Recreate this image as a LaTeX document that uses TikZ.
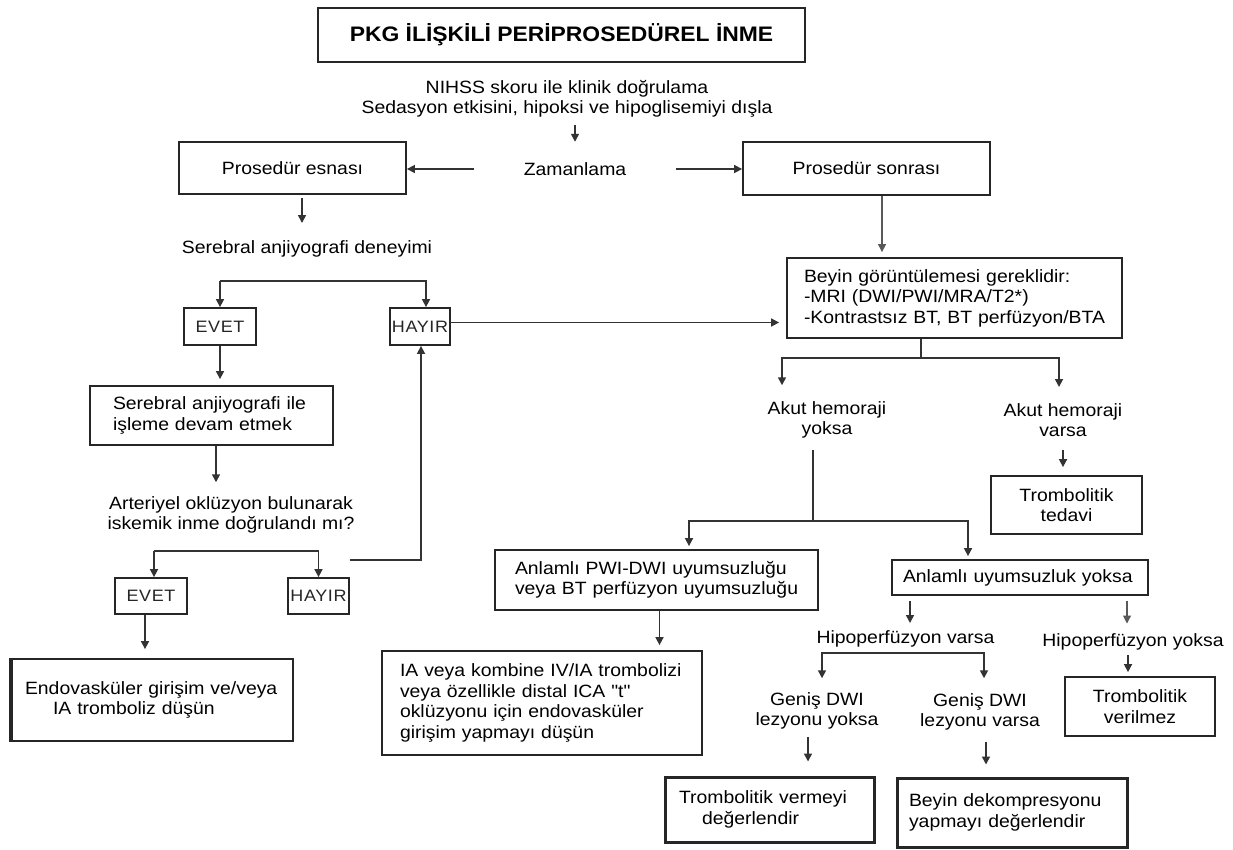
\documentclass[tikz,border=0pt]{standalone}
\usepackage{fontspec}
\setmainfont{Liberation Sans}[FakeStretch=1.09]
\newfontfamily\yesno{Liberation Sans}[FakeStretch=1.09,LetterSpace=4]
\usetikzlibrary{arrows.meta}
\newcommand{\sq}{{\addfontfeature{Ligatures=TeXOff}"}}
\begin{document}
\begin{tikzpicture}[x=1pt,y=-1pt,
  every node/.style={font=\fontsize{17.8}{20.5}\selectfont, text=black},
  box/.style={draw=black!85, line width=1.8pt, inner sep=0pt, align=center},
  txt/.style={inner sep=0pt, align=center},
  ln/.style={draw=black!80, line width=1.6pt},
  arr/.style={ln, -{Triangle[length=8pt,width=8pt]}},
  thinarr/.style={draw=black!65, line width=1.1pt, -{Triangle[length=8pt,width=8pt]}},
  yn/.style={box, font=\yesno\fontsize{16.5}{18}\selectfont, text=black!85}]
\useasboundingbox[fill=white] (0,0) rectangle (1233,849);

% nodes
\node[box, minimum width=487, minimum height=54, font=\bfseries\fontsize{21}{24}\selectfont] (title) at (561.5,35) {PKG İLİŞKİLİ PERİPROSEDÜREL İNME};
\node[txt] (nihss) at (567,99) {NIHSS skoru ile klinik doğrulama\\Sedasyon etkisini, hipoksi ve hipoglisemiyi dışla};
\node[txt] (zam) at (575,169) {Zamanlama};
\node[box, minimum width=227, minimum height=52] (esn) at (292.5,168) {Prosedür esnası};
\node[box, minimum width=247, minimum height=53] (son) at (866.5,168.5) {Prosedür sonrası};
\node[txt] (sad) at (307,249) {Serebral anjiyografi deneyimi};
\node[yn, minimum width=72, minimum height=37] (evet1) at (220,326.5) {EVET};
\node[yn, minimum width=60, minimum height=37] (hayir1) at (420,326.5) {HAYIR};
\node[box, minimum height=59, text width=197, inner xsep=23, align=left] (devam) at (211.5,415.5) {\mbox{Serebral anjiyografi ile}\\\mbox{işleme devam etmek}};
\node[txt] (arter) at (231,515) {Arteriyel oklüzyon bulunarak\\iskemik inme doğrulandı mı?};
\node[yn, minimum width=72, minimum height=36] (evet2) at (151,596) {EVET};
\node[yn, minimum width=61, minimum height=36] (hayir2) at (318.5,596) {HAYIR};
\node[box, minimum height=82, text width=255, inner xsep=13, align=left] (endo) at (152.5,700) {\mbox{Endovasküler girişim ve/veya}\\\mbox{\hspace*{28pt}IA tromboliz düşün}};
\node[box, minimum height=80, text width=301, inner xsep=17, align=left] (beyin) at (954.5,298) {\mbox{Beyin görüntülemesi gereklidir:}\\\mbox{-MRI (DWI/PWI/MRA/T2*)}\\\mbox{-Kontrastsız BT, BT perfüzyon/BTA}};
\node[txt] (hemY) at (827,420) {Akut hemoraji\\yoksa};
\node[txt] (hemV) at (1063,420) {Akut hemoraji\\varsa};
\node[box, minimum width=151, minimum height=58] (ted) at (1066.5,505) {Trombolitik\\tedavi};
\node[box, minimum height=60, text width=283, inner xsep=20, align=left] (pwi) at (656.5,580) {\mbox{Anlamlı PWI-DWI uyumsuzluğu}\\\mbox{veya BT perfüzyon uyumsuzluğu}};
\node[box, minimum height=104, text width=284, inner xsep=18, align=left] (ia) at (542,703) {\mbox{IA veya kombine IV/IA trombolizi}\\\mbox{veya özellikle distal ICA \sq t\sq}\\\mbox{oklüzyonu için endovasküler}\\\mbox{girişim yapmayı düşün}};
\node[box, minimum height=35, text width=234, inner xsep=11, align=left] (anl) at (1020,577.5) {\mbox{Anlamlı uyumsuzluk yoksa}};
\node[txt] (hipV) at (905.5,639) {Hipoperfüzyon varsa};
\node[txt] (hipY) at (1133,642) {Hipoperfüzyon yoksa};
\node[box, minimum width=150, minimum height=59] (verz) at (1140,706.5) {Trombolitik\\verilmez};
\node[txt] (dwiY) at (817,711) {Geniş DWI\\lezyonu yoksa};
\node[txt] (dwiV) at (980,712) {Geniş DWI\\lezyonu varsa};
\node[box, line width=3pt, minimum height=65, text width=181, inner xsep=14, align=left] (verm) at (769.5,809.5) {\mbox{Trombolitik vermeyi}\\\mbox{\hspace*{23pt}değerlendir}};
\node[box, line width=3pt, minimum height=69, text width=206, inner xsep=12, align=left] (dek) at (1012,812.5) {\mbox{Beyin dekompresyonu}\\\mbox{yapmayı değerlendir}};
\draw[line width=4pt, black!85] (endo.north west) -- (endo.south west);

% connectors
\draw[arr, shorten <=7, shorten >=20.5] (zam.north |- nihss.south) -- (zam.north);
\draw[arr] ([xshift=-50]zam.west) -- (zam.west -| esn.east);
\draw[arr] ([xshift=50]zam.east) -- (zam.east -| son.west);
\draw[arr, shorten <=3, shorten >=17.5] ([xshift=9.5]esn.south) -- ([xshift=9.5]esn.south |- sad.north);
\draw[arr] ([yshift=26]evet1.north) -- (evet1.north);
\draw[arr] ([yshift=26]evet1.north) -| ([xshift=6]hayir1.north);
\draw[arr, shorten >=7] ([yshift=4]hayir1.east) -- ([yshift=4]hayir1.east -| beyin.west);
\draw[arr, shorten >=6] (evet1.south) -- (evet1.south |- devam.north);
\draw[arr, shorten >=14] ([xshift=4.5]devam.south) -- ([xshift=4.5]devam.south |- arter.north);
\draw[arr] ([xshift=3,yshift=26]evet2.north) -- ([xshift=3]evet2.north);
\draw[arr] ([xshift=3,yshift=26]evet2.north) -| (hayir2.north);
\draw[arr] ([yshift=17]hayir2.north east) -| ([xshift=1]hayir1.south);
\draw[arr, shorten >=9] ([xshift=-6]evet2.south) -- ([xshift=-6]evet2.south |- endo.north);
\draw[thinarr, shorten >=5] ([xshift=15.5]son.south) -- ([xshift=15.5]son.south |- beyin.north);

\coordinate (bk) at (921,358);
\draw[ln] (beyin.south -| bk) -- (bk);
\draw[arr, shorten >=16] (bk) -| ([xshift=-45]hemY.north);
\draw[arr, shorten >=16] (bk) -| ([xshift=-4]hemV.north);
\draw[arr, shorten <=13, shorten >=8] (hemV.south) -- (hemV.south |- ted.north);

\coordinate (yk) at (813,521);
\draw[ln, shorten <=11] (hemY.south -| yk) -- (yk);
\draw[arr, shorten >=3] (yk) -| ([xshift=32.5]pwi.north);
\draw[arr, shorten >=3] (yk) -| ([xshift=-52]anl.north);
\draw[arr, shorten >=5] ([xshift=3]pwi.south) -- ([xshift=3]pwi.south |- ia.north);
\draw[arr, shorten <=5, shorten >=7.5] ([xshift=-110]anl.south) -- ([xshift=-110]anl.south |- hipV.north);
\draw[thinarr, shorten <=5, shorten >=10] ([xshift=107]anl.south) -- ([xshift=107]anl.south |- hipY.north);

\coordinate (hl) at (822,653);
\coordinate (hr) at (984,653);
\draw[arr, shorten >=14] (hr) -- (hl) -- (hl |- dwiY.north);
\draw[arr, shorten >=15] (hl) -- (hr) -- (hr |- dwiV.north);
\draw[arr, shorten <=4.5, shorten >=4] ([xshift=-12]verz.north |- hipY.south) -- ([xshift=-12]verz.north);
\draw[arr, shorten <=7, shorten >=14] ([xshift=38.5]verm.north |- dwiY.south) -- ([xshift=38.5]verm.north);
\draw[arr, shorten <=11, shorten >=12] ([xshift=-26]dek.north |- dwiV.south) -- ([xshift=-26]dek.north);
\end{tikzpicture}
\end{document}
